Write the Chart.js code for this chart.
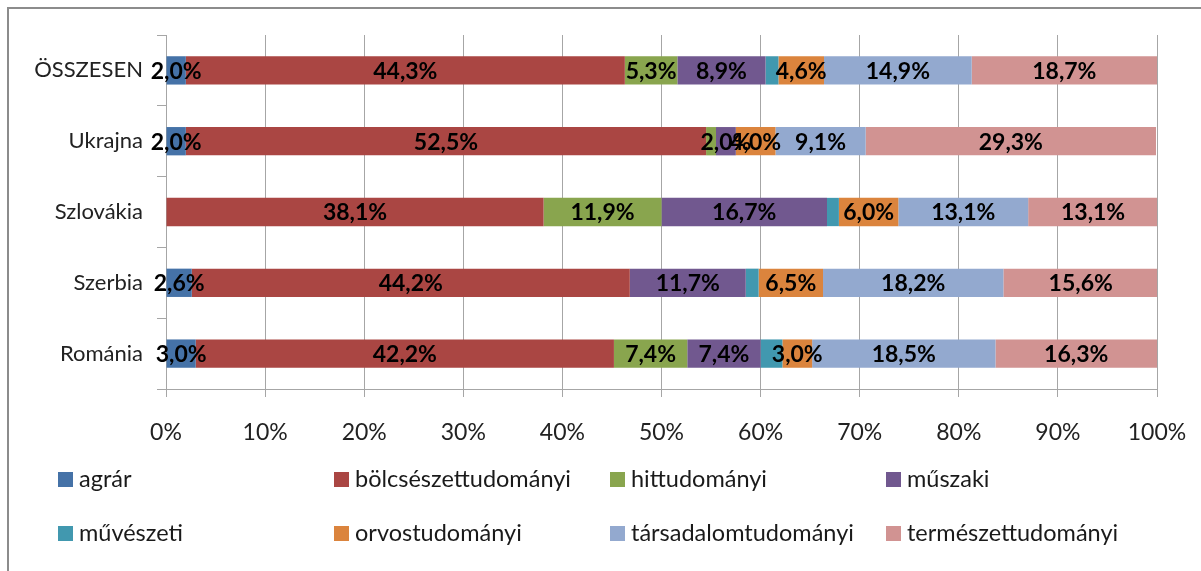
<!DOCTYPE html>
<html>
<head>
<meta charset="utf-8">
<script src="https://cdn.jsdelivr.net/npm/chart.js@4.4.1/dist/chart.umd.min.js"></script>
<style>
html,body{margin:0;padding:0;background:#fff;}
canvas{display:block;}
</style>
</head>
<body>
<canvas id="c" width="1201" height="571"></canvas>
<script>
const categories = ['ÖSSZESEN', 'Ukrajna', 'Szlovákia', 'Szerbia', 'Románia'];
const seriesNames = ['agrár', 'bölcsészettudományi', 'hittudományi', 'műszaki', 'művészeti', 'orvostudományi', 'társadalomtudományi', 'természettudományi'];
const agrar = [2.0, 2.0, 0, 2.6, 3.0];
const bolcseszet = [44.3, 52.5, 38.1, 44.2, 42.2];
const hittudomanyi = [5.3, 1.0, 11.9, 0, 7.4];
const muszaki = [8.9, 2.0, 16.7, 11.7, 7.4];
const muveszeti = [1.3, 0, 1.2, 1.3, 2.2];
const orvos = [4.6, 4.0, 6.0, 6.5, 3.0];
const tarsadalom = [14.9, 9.1, 13.1, 18.2, 18.5];
const termeszet = [18.7, 29.3, 13.1, 15.6, 16.3];
const seriesValues = [agrar, bolcseszet, hittudomanyi, muszaki, muveszeti, orvos, tarsadalom, termeszet];
const seriesColors = ['#4572A7', '#AA4643', '#89A54E', '#71588F', '#4198AF', '#DB843D', '#93A9CF', '#D19392'];
const hideLabelSeries = ['művészeti'];

const FONT = 'Lato';

const frame = {
  id: 'frame',
  beforeDraw(chart) {
    const ctx = chart.ctx;
    ctx.save();
    ctx.strokeStyle = '#8c8c8c';
    ctx.lineWidth = 2;
    ctx.strokeRect(8, 8, 1400, 800);
    ctx.restore();
  }
};

const valueLabels = {
  id: 'valueLabels',
  afterDatasetsDraw(chart) {
    const ctx = chart.ctx;
    ctx.save();
    ctx.font = 'bold 23px ' + FONT;
    ctx.fillStyle = '#000';
    ctx.textAlign = 'center';
    ctx.textBaseline = 'middle';
    chart.data.datasets.forEach((ds, di) => {
      if (hideLabelSeries.includes(ds.label)) return;
      const meta = chart.getDatasetMeta(di);
      meta.data.forEach((el, i) => {
        const v = ds.data[i];
        if (!v || v < 2) return;
        const p = el.getCenterPoint();
        ctx.fillText(v.toFixed(1).replace('.', ',') + '%', p.x, p.y + 1);
      });
    });
    ctx.restore();
  }
};

const gridLegend = {
  id: 'gridLegend',
  afterDraw(chart) {
    const ctx = chart.ctx;
    ctx.save();
    ctx.font = '23.5px ' + FONT;
    ctx.textBaseline = 'middle';
    ctx.textAlign = 'left';
    chart.data.datasets.forEach((ds, i) => {
      const col = i % 4, row = Math.floor(i / 4);
      const x = 58 + col * 276;
      const y = 479 + row * 54;
      ctx.fillStyle = ds.backgroundColor;
      ctx.fillRect(x, y - 7, 15, 15);
      ctx.fillStyle = '#1a1a1a';
      ctx.fillText(ds.label, x + 21, y);
    });
    ctx.restore();
  }
};

function draw() {
  new Chart(document.getElementById('c'), {
    type: 'bar',
    data: {
      labels: categories,
      datasets: seriesNames.map((n, i) => ({
        label: n,
        data: seriesValues[i],
        backgroundColor: seriesColors[i],
        borderWidth: 0,
        barPercentage: 0.4,
        categoryPercentage: 1.0
      }))
    },
    options: {
      responsive: false,
      animation: false,
      indexAxis: 'y',
      layout: { padding: { left: 0, top: 35, right: 44, bottom: 122 } },
      plugins: {
        legend: { display: false },
        tooltip: { enabled: false }
      },
      scales: {
        x: {
          stacked: true,
          min: 0,
          max: 100,
          ticks: {
            stepSize: 10,
            callback: v => v + '%',
            padding: 22,
            color: '#222',
            font: { family: FONT, size: 23 },
            maxRotation: 0
          },
          grid: { color: '#a6a6a6', lineWidth: 1, tickLength: 8 },
          border: { color: '#a6a6a6', width: 1 },
          afterFit: s => { s.height = 60; s.paddingLeft = 0; s.paddingRight = 0; }
        },
        y: {
          stacked: true,
          ticks: {
            padding: 14,
            color: '#222',
            font: { family: FONT, size: 22 }
          },
          grid: { offset: true, drawOnChartArea: false, tickLength: 9, color: '#a6a6a6', lineWidth: 1 },
          border: { color: '#a6a6a6', width: 1 },
          afterFit: s => { s.width = 166; s.paddingTop = 0; s.paddingBottom = 0; }
        }
      }
    },
    plugins: [frame, valueLabels, gridLegend]
  });
}

Promise.all([
  document.fonts.load('23px ' + FONT),
  document.fonts.load('bold 23px ' + FONT)
]).then(draw, draw);
</script>
</body>
</html>
